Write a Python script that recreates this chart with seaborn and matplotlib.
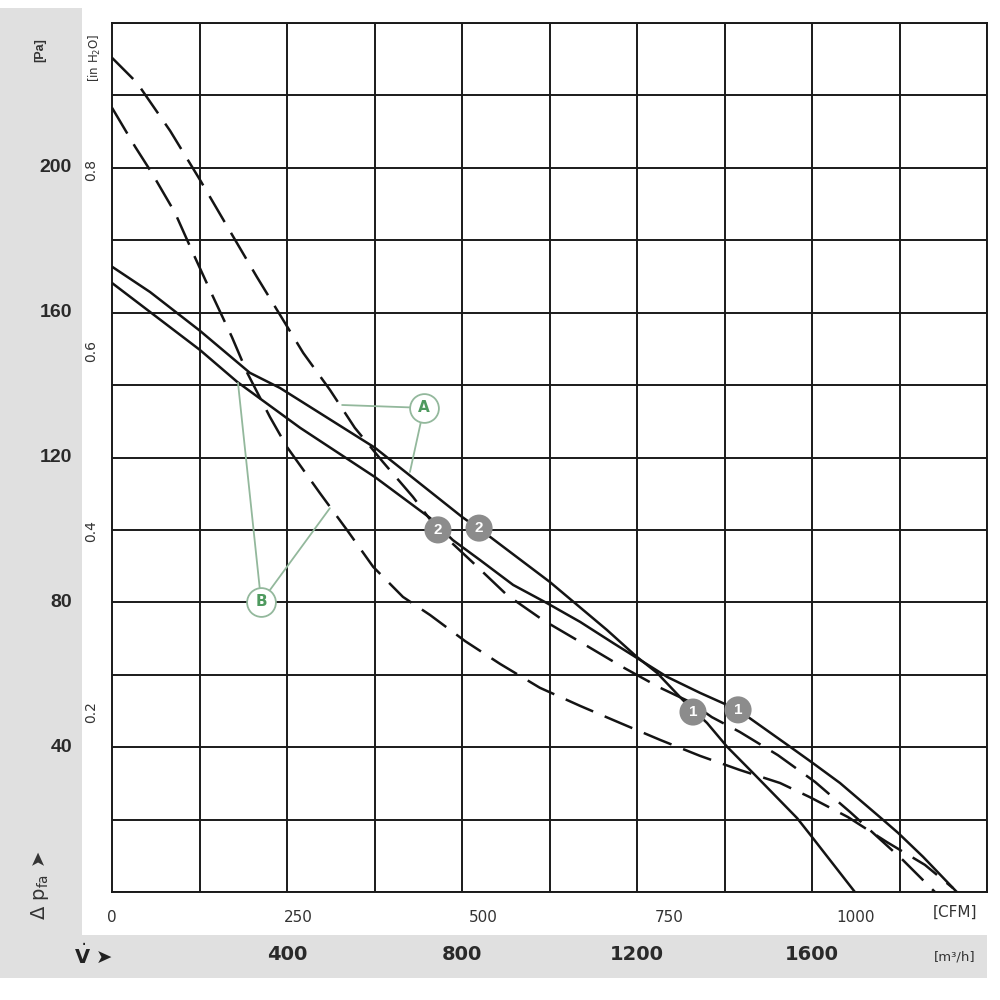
import matplotlib
matplotlib.use("Agg")
import matplotlib.pyplot as plt
import matplotlib.transforms as mtransforms
from matplotlib.ticker import MultipleLocator
from matplotlib.patches import Rectangle
from matplotlib import font_manager
import numpy as np
import pandas as pd
import seaborn as sns

# ---------------- data (flow in m³/h, pressure in Pa) ----------------
s1_flow = [0, 87, 201, 315, 384, 601, 800, 864, 1001, 1131, 1200, 1246, 1305, 1360, 1406, 1465, 1566, 1600, 1698]
s1_pa   = [172.7, 165.7, 155.0, 143.4, 139.2, 122.7, 103.6, 98.1, 85.6, 72.4, 64.9, 60.5, 53.0, 46.7, 40.1, 32.9, 20.4, 15.2, 0]

s2_flow = [0, 201, 286, 430, 601, 727, 779, 841, 917, 994, 1070, 1145, 1207, 1269, 1344, 1431, 1550, 1602, 1664, 1755, 1797, 1854, 1931]
s2_pa   = [168.2, 149.7, 140.9, 128.2, 114.6, 103.3, 97.2, 91.7, 84.8, 79.8, 74.6, 68.8, 64.1, 59.4, 55.0, 50.3, 40.1, 35.6, 30.1, 20.7, 16.3, 9.7, 0]

d1_flow = [0, 57, 133, 201, 277, 331, 384, 437, 498, 555, 619, 688, 745, 823, 903, 985, 1074, 1166, 1253, 1321, 1371, 1435, 1522, 1607, 1687, 1808, 1881]
d1_pa   = [230.4, 223.5, 210.2, 196.7, 181.0, 169.9, 159.4, 148.9, 138.7, 128.2, 118.8, 109.1, 100.0, 91.2, 82.0, 75.1, 68.8, 62.2, 56.4, 52.5, 48.3, 44.2, 37.8, 30.4, 22.1, 8.8, 0]

d2_flow = [0, 53, 91, 144, 185, 229, 274, 309, 361, 400, 475, 537, 597, 665, 727, 807, 887, 978, 1070, 1161, 1253, 1344, 1435, 1527, 1595, 1682, 1771, 1858, 1922]
d2_pa   = [216.6, 205.8, 198.6, 187.6, 176.5, 164.9, 153.3, 143.4, 131.2, 122.9, 110.2, 100.0, 89.8, 81.5, 76.5, 69.3, 63.0, 56.4, 51.4, 46.7, 42.0, 37.6, 33.7, 30.1, 26.2, 20.7, 13.8, 7.5, 1.1]

# operating points (grey numbered circles)
op_labels = ["2", "2", "1", "1"]
op_flow   = [745, 839, 1328, 1431]
op_pa     = [100.0, 100.5, 49.7, 50.3]

# curve-family callouts A / B and their leader targets
callout_labels = ["A", "B"]
callout_flow   = [713, 341]
callout_pa     = [133.7, 80.1]
leader_flow    = [[526, 681], [288, 498]]
leader_pa      = [[134.5, 116.0], [140.6, 106.0]]

# axis ticks
pa_ticks    = [40, 80, 120, 160, 200]
inh2o_ticks = [0.2, 0.4, 0.6, 0.8]
cfm_ticks   = [0, 250, 500, 750, 1000]
m3h_ticks   = [400, 800, 1200, 1600]

PA_PER_INH2O = 249.09
M3H_PER_CFM = 1.699

# ---------------- style ----------------
sns.set_style("white")
names = {f.name for f in font_manager.fontManager.ttflist}
narrow = "Liberation Sans Narrow" if "Liberation Sans Narrow" in names else "DejaVu Sans"
wide = "Liberation Sans" if "Liberation Sans" in names else "DejaVu Sans"
plt.rcParams["font.family"] = [wide, "DejaVu Sans"]

fig = plt.figure(figsize=(10, 10), dpi=100, facecolor="white")

# grey L-shaped band
fig.add_artist(Rectangle((0, 0.022), 0.082, 0.970, transform=fig.transFigure,
                         facecolor="#e0e0e0", edgecolor="none", zorder=0))
fig.add_artist(Rectangle((0, 0.022), 0.987, 0.043, transform=fig.transFigure,
                         facecolor="#e0e0e0", edgecolor="none", zorder=0))

ax = fig.add_axes([0.112, 0.108, 0.875, 0.869])
ax.set_facecolor("white")

frames = []
for name, fl, pa in [("S1", s1_flow, s1_pa), ("S2", s2_flow, s2_pa),
                     ("D1", d1_flow, d1_pa), ("D2", d2_flow, d2_pa)]:
    frames.append(pd.DataFrame({"flow": fl, "pa": pa, "curve": name}))
df = pd.concat(frames, ignore_index=True)

sns.lineplot(data=df, x="flow", y="pa", hue="curve", style="curve",
             palette={"S1": "#141414", "S2": "#141414", "D1": "#141414", "D2": "#141414"},
             dashes={"S1": "", "S2": "", "D1": (12, 5), "D2": (12, 5)},
             sort=False, estimator=None, legend=False, linewidth=1.8, ax=ax, zorder=3)

ax.set_xlim(0, 2000)
ax.set_ylim(0, 240)
ax.set_xlabel("")
ax.set_ylabel("")

# grid every 200 m³/h and 20 Pa
ax.xaxis.set_minor_locator(MultipleLocator(200))
ax.yaxis.set_minor_locator(MultipleLocator(20))
ax.grid(which="minor", color="#1a1a1a", linewidth=1.4)
ax.grid(which="major", visible=False)
ax.tick_params(which="minor", length=0)
for sp in ax.spines.values():
    sp.set_color("#1a1a1a")
    sp.set_linewidth(1.4)

# CFM ticks on x, inH2O ticks on y
ax.set_xticks([c * M3H_PER_CFM for c in cfm_ticks], labels=[str(c) for c in cfm_ticks])
ax.tick_params(axis="x", which="major", length=6, width=1.1, direction="out",
               pad=7, labelsize=11, labelcolor="#333333", color="#1a1a1a")
for lbl in ax.get_xticklabels():
    lbl.set_fontfamily([narrow, "DejaVu Sans"])

ax.set_yticks([v * PA_PER_INH2O for v in inh2o_ticks], labels=[f"{v:.1f}" for v in inh2o_ticks])
ax.tick_params(axis="y", which="major", length=7, width=1.1, direction="out",
               pad=3, labelsize=10, labelcolor="#333333", color="#1a1a1a")
for lbl in ax.get_yticklabels():
    lbl.set_rotation(90)
    lbl.set_va("center")
    lbl.set_fontfamily([narrow, "DejaVu Sans"])

# operating point markers
ax.scatter(op_flow, op_pa, s=380, color="#8c8c8c", edgecolors="none", zorder=6)
for lab, x, y in zip(op_labels, op_flow, op_pa):
    ax.text(x, y, lab, color="white", fontsize=11, fontweight="bold",
            ha="center", va="center", zorder=7)

# callouts A / B with leader lines
green_line = "#93b89c"
for lab, cx, cy, lx, ly in zip(callout_labels, callout_flow, callout_pa, leader_flow, leader_pa):
    for tx, ty in zip(lx, ly):
        ax.plot([cx, tx], [cy, ty], color=green_line, linewidth=1.3, zorder=4)
    ax.scatter([cx], [cy], s=430, facecolor="white", edgecolors=green_line,
               linewidths=1.3, zorder=6)
    ax.text(cx, cy, lab, color="#4f9a5f", fontsize=11, fontweight="bold",
            ha="center", va="center", zorder=7, fontfamily=[narrow, "DejaVu Sans"])

# Pa labels in the left band
tr_y = mtransforms.blended_transform_factory(fig.transFigure, ax.transData)
for v in pa_ticks:
    ax.text(0.072, v, str(v), transform=tr_y, ha="right", va="center",
            fontsize=14, fontweight="bold", color="#2a2a2a", clip_on=False)

# m³/h labels in the bottom band
tr_x = mtransforms.blended_transform_factory(ax.transData, fig.transFigure)
for v in m3h_ticks:
    ax.text(v, 0.045, str(v), transform=tr_x, ha="center", va="center",
            fontsize=14, fontweight="bold", color="#2a2a2a", clip_on=False,
            fontfamily=[narrow, "DejaVu Sans"])

# unit labels
fig.text(0.040, 0.950, "[Pa]", rotation=90, ha="center", va="center",
         fontsize=9, fontweight="bold", color="#333333")
fig.text(0.095, 0.942, "[in H$_2$O]", rotation=90, ha="center", va="center",
         fontsize=8.5, color="#333333", fontfamily=[narrow, "DejaVu Sans"])
fig.text(0.955, 0.088, "[CFM]", ha="center", va="center", fontsize=11,
         color="#333333", fontfamily=[narrow, "DejaVu Sans"])
fig.text(0.955, 0.043, "[m³/h]", ha="center", va="center", fontsize=9.5,
         color="#333333", fontfamily=[narrow, "DejaVu Sans"])

# axis quantity labels
fig.text(0.040, 0.115, r"Δ p$_{\mathrm{fa}}$ ➤", rotation=90, ha="center", va="center",
         fontsize=14, color="#333333", fontfamily=["DejaVu Sans"])
fig.text(0.093, 0.045, r"$\dot{\mathbf{V}}$ ➤", ha="center", va="center",
         fontsize=14, color="#222222", fontfamily=["DejaVu Sans"])

fig.savefig("out.png", dpi=100, facecolor="white")
